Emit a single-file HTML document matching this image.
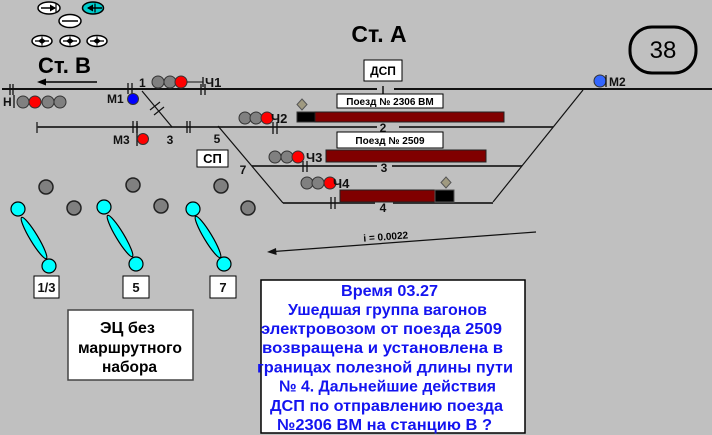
<!DOCTYPE html>
<html><head><meta charset="utf-8"><style>
html,body{margin:0;padding:0;background:#c0c0c0;}
svg{display:block;}
text{font-family:"Liberation Sans",Arial,sans-serif;font-weight:bold;}
</style></head><body>
<svg width="712" height="435" viewBox="0 0 712 435" xmlns="http://www.w3.org/2000/svg">
<rect width="712" height="435" fill="#c0c0c0"/>

<!-- top-left icons -->
<ellipse cx="49" cy="8" rx="11" ry="6" fill="#fff" stroke="#000" stroke-width="1.5"/>
<line x1="41" y1="8" x2="55" y2="8" stroke="#000" stroke-width="1.5"/>
<polygon points="56,8 50,4.5 50,11.5" fill="#000"/>
<line x1="56" y1="3.5" x2="56" y2="12.5" stroke="#000" stroke-width="1.2"/>

<ellipse cx="93" cy="8" rx="10.5" ry="6" fill="#00cccc" stroke="#000" stroke-width="1.5"/>
<line x1="88" y1="8" x2="102" y2="8" stroke="#000" stroke-width="1.5"/>
<polygon points="87,8 93,4.5 93,11.5" fill="#000"/>
<line x1="95" y1="3.5" x2="95" y2="12.5" stroke="#000" stroke-width="1.2"/>

<ellipse cx="70" cy="21" rx="11" ry="6.5" fill="#fff" stroke="#000" stroke-width="1.5"/>
<line x1="62" y1="21" x2="78" y2="21" stroke="#000" stroke-width="1.5"/>

<g>
<ellipse cx="42" cy="41" rx="10" ry="5.5" fill="#fff" stroke="#000" stroke-width="1.5"/>
<line x1="35" y1="41" x2="49" y2="41" stroke="#000" stroke-width="1.3"/>
<polygon points="38,41 42,38 46,41 42,44" fill="#000"/>
<line x1="42" y1="36.5" x2="42" y2="45.5" stroke="#000"/>
<ellipse cx="70" cy="41" rx="10" ry="5.5" fill="#fff" stroke="#000" stroke-width="1.5"/>
<line x1="63" y1="41" x2="77" y2="41" stroke="#000" stroke-width="1.3"/>
<polygon points="66,41 70,38 74,41 70,44" fill="#000"/>
<line x1="70" y1="36.5" x2="70" y2="45.5" stroke="#000"/>
<ellipse cx="97" cy="41" rx="10" ry="5.5" fill="#fff" stroke="#000" stroke-width="1.5"/>
<line x1="90" y1="41" x2="104" y2="41" stroke="#000" stroke-width="1.3"/>
<polygon points="93,41 97,38 101,41 97,44" fill="#000"/>
<line x1="97" y1="36.5" x2="97" y2="45.5" stroke="#000"/>
</g>

<!-- station titles -->
<text x="38" y="73" font-size="22">Ст. В</text>
<line x1="44" y1="82" x2="97" y2="82" stroke="#000" stroke-width="1.5"/>
<polygon points="37,82 46,78.5 46,85.5" fill="#000"/>
<text x="379" y="42" font-size="23" text-anchor="middle">Ст. А</text>

<!-- 38 -->
<rect x="630" y="27" width="66" height="46" rx="22" ry="22" fill="none" stroke="#000" stroke-width="3"/>
<text x="663" y="58" font-size="24" text-anchor="middle" style="font-weight:normal">38</text>

<!-- ДСП -->
<rect x="364" y="60" width="38" height="21" fill="#fff" stroke="#000" stroke-width="1"/>
<text x="383" y="75" font-size="12" text-anchor="middle">ДСП</text>

<!-- tracks -->
<g stroke="#111" stroke-width="2" fill="none">
<line x1="2" y1="89" x2="377" y2="89"/>
<line x1="394" y1="89" x2="712" y2="89"/>
<line x1="383" y1="86" x2="383" y2="95" stroke-width="1.5"/>
</g>
<g stroke="#333" stroke-width="2" fill="none">
<line x1="37" y1="127" x2="377" y2="127"/>
<line x1="399" y1="127" x2="553" y2="127"/>
<line x1="252" y1="166" x2="377" y2="166"/>
<line x1="392" y1="166" x2="522" y2="166"/>
<line x1="283" y1="203" x2="375" y2="203"/>
<line x1="393" y1="203" x2="493" y2="203"/>
</g>
<line x1="37" y1="122" x2="37" y2="133" stroke="#333" stroke-width="1.5"/>

<!-- diagonals -->
<g stroke="#111" stroke-width="1.2" fill="none">
<line x1="142" y1="91" x2="172" y2="127"/>
<line x1="218" y1="126" x2="283" y2="203"/>
<line x1="583" y1="90" x2="493" y2="202"/>
<line x1="150" y1="110" x2="160" y2="102"/>
<line x1="154" y1="115" x2="164" y2="107"/>
</g>

<!-- joints -->
<g stroke="#111" stroke-width="1.3">
<line x1="10" y1="84" x2="10" y2="95"/><line x1="13" y1="84" x2="13" y2="95"/>
<line x1="128" y1="83" x2="128" y2="94"/><line x1="132" y1="83" x2="132" y2="94"/>
<line x1="201" y1="84" x2="201" y2="95"/><line x1="205" y1="84" x2="205" y2="95"/>
<line x1="133" y1="121" x2="133" y2="133"/><line x1="137" y1="121" x2="137" y2="133"/>
<line x1="187" y1="121" x2="187" y2="133"/><line x1="190" y1="121" x2="190" y2="133"/>
<line x1="273" y1="122" x2="273" y2="134"/><line x1="277" y1="122" x2="277" y2="134"/>
<line x1="303" y1="161" x2="303" y2="172"/><line x1="307" y1="161" x2="307" y2="172"/>
<line x1="331" y1="197" x2="331" y2="209"/><line x1="335" y1="197" x2="335" y2="209"/>
</g>

<!-- signals -->
<g stroke="#333" stroke-width="1">
<line x1="14" y1="95" x2="14" y2="108" stroke="#111" stroke-width="1.3"/>
<circle cx="23" cy="102" r="6" fill="#808080"/>
<circle cx="35" cy="102" r="6" fill="#ff0000"/>
<circle cx="48" cy="102" r="6" fill="#808080"/>
<circle cx="60" cy="102" r="6" fill="#808080"/>
<circle cx="133" cy="99" r="5.5" fill="#0000ff"/>
<circle cx="158" cy="82" r="6" fill="#808080"/>
<circle cx="170" cy="82" r="6" fill="#808080"/>
<circle cx="181" cy="82" r="6" fill="#ff0000"/>
<line x1="187" y1="82" x2="203" y2="82" stroke="#111"/>
<line x1="203" y1="77" x2="203" y2="87" stroke="#111" stroke-width="1.3"/>
<line x1="137" y1="123" x2="137" y2="146" stroke="#111" stroke-width="1.3"/>
<circle cx="143" cy="139" r="5.5" fill="#ff0000"/>
<circle cx="245" cy="118" r="6" fill="#808080"/>
<circle cx="256" cy="118" r="6" fill="#808080"/>
<circle cx="267" cy="118" r="6" fill="#ff0000"/>
<circle cx="275" cy="157" r="6" fill="#808080"/>
<circle cx="287" cy="157" r="6" fill="#808080"/>
<circle cx="298" cy="157" r="6" fill="#ff0000"/>
<circle cx="307" cy="183" r="6" fill="#808080"/>
<circle cx="318" cy="183" r="6" fill="#808080"/>
<circle cx="330" cy="183" r="6" fill="#ff0000"/>
<circle cx="600" cy="81" r="6" fill="#3366ff"/>
<line x1="606" y1="75" x2="606" y2="87" stroke="#111" stroke-width="1.3"/>
</g>

<!-- labels -->
<g font-size="12" fill="#111">
<text x="3" y="106">Н</text>
<text x="107" y="103">М1</text>
<text x="139" y="87">1</text>
<text x="205" y="87" font-size="13">Ч1</text>
<text x="113" y="144">М3</text>
<text x="170" y="144" text-anchor="middle">3</text>
<text x="217" y="143" text-anchor="middle">5</text>
<text x="243" y="174" text-anchor="middle">7</text>
<text x="271" y="123" font-size="13">Ч2</text>
<text x="383" y="132" text-anchor="middle">2</text>
<text x="306" y="162" font-size="13">Ч3</text>
<text x="384" y="172" text-anchor="middle">3</text>
<text x="333" y="188" font-size="13">Ч4</text>
<text x="383" y="212" text-anchor="middle">4</text>
<text x="609" y="86">М2</text>
</g>

<!-- СП -->
<rect x="197" y="150" width="31" height="17" fill="#fff" stroke="#000" stroke-width="1"/>
<text x="212.5" y="163" font-size="13" text-anchor="middle">СП</text>

<!-- trains -->
<rect x="297" y="112" width="18" height="10" fill="#000" stroke="#333" stroke-width="1"/>
<rect x="315" y="112" width="189" height="10" fill="#800000" stroke="#222" stroke-width="1"/>
<polygon points="302,99 307,104.5 302,110 297,104.5" fill="#a09a80" stroke="#555" stroke-width="1"/>

<rect x="326" y="150" width="160" height="12" fill="#800000" stroke="#222" stroke-width="1"/>

<rect x="340" y="190" width="95" height="12" fill="#800000" stroke="#222" stroke-width="1"/>
<rect x="435" y="190" width="19" height="12" fill="#000" stroke="#555" stroke-width="1"/>
<polygon points="446,177 451,182.5 446,188 441,182.5" fill="#a09a80" stroke="#555" stroke-width="1"/>

<!-- train labels -->
<rect x="337" y="94" width="106" height="14" fill="#fff" stroke="#000" stroke-width="1"/>
<text x="390" y="105" font-size="10" text-anchor="middle">Поезд № 2306 ВМ</text>
<rect x="337" y="132" width="106" height="16" fill="#fff" stroke="#000" stroke-width="1"/>
<text x="390" y="144" font-size="10" text-anchor="middle">Поезд № 2509</text>

<!-- levers -->
<g stroke="#222" stroke-width="1.5">
<circle cx="46" cy="187" r="7" fill="#808080"/>
<circle cx="74" cy="208" r="7" fill="#808080"/>
<circle cx="133" cy="185" r="7" fill="#808080"/>
<circle cx="161" cy="206" r="7" fill="#808080"/>
<circle cx="221" cy="186" r="7" fill="#808080"/>
<circle cx="248" cy="208" r="7" fill="#808080"/>
</g>
<g stroke="#000" stroke-width="1.2" fill="#00ffff">
<ellipse cx="34" cy="238" rx="24" ry="4" transform="rotate(59 34 238)"/>
<circle cx="18" cy="209" r="7"/>
<circle cx="49" cy="266" r="7"/>
<ellipse cx="120" cy="236" rx="24" ry="4" transform="rotate(59 120 236)"/>
<circle cx="104" cy="207" r="7"/>
<circle cx="136" cy="264" r="7"/>
<ellipse cx="208" cy="237" rx="24" ry="4" transform="rotate(59 208 237)"/>
<circle cx="193" cy="209" r="7"/>
<circle cx="224" cy="264" r="7"/>
</g>
<g stroke="#000" stroke-width="1" fill="#fff">
<rect x="34" y="276" width="25" height="22"/>
<rect x="123" y="276" width="26" height="22"/>
<rect x="210" y="276" width="26" height="22"/>
</g>
<g font-size="13" text-anchor="middle" fill="#111">
<text x="46.5" y="292">1/3</text>
<text x="136" y="292">5</text>
<text x="223" y="292">7</text>
</g>

<!-- gradient -->
<line x1="274" y1="251.5" x2="536" y2="232" stroke="#111" stroke-width="1.2"/>
<polygon points="267,252 276,248 276.6,255" fill="#111"/>
<text x="386" y="240" font-size="10" text-anchor="middle" transform="rotate(-4.3 386 240)">i = 0.0022</text>

<!-- ЭЦ box -->
<rect x="68" y="310" width="125" height="70" fill="#fff" stroke="#444" stroke-width="1.5"/>
<g font-size="15.5" fill="#000">
<text x="100" y="333" textLength="55" lengthAdjust="spacingAndGlyphs">ЭЦ без</text>
<text x="78" y="353" textLength="104" lengthAdjust="spacingAndGlyphs">маршрутного</text>
<text x="102" y="372" textLength="55" lengthAdjust="spacingAndGlyphs">набора</text>
</g>

<!-- main text box -->
<rect x="261" y="280" width="264" height="153" fill="#fff" stroke="#000" stroke-width="1.5"/>
<g font-size="16" fill="#1414f0">
<text x="341" y="296" textLength="97" lengthAdjust="spacingAndGlyphs">Время 03.27</text>
<text x="288" y="315" textLength="199" lengthAdjust="spacingAndGlyphs">Ушедшая группа вагонов</text>
<text x="261" y="334" textLength="241" lengthAdjust="spacingAndGlyphs">электровозом от поезда 2509</text>
<text x="262" y="353" textLength="241" lengthAdjust="spacingAndGlyphs">возвращена и установлена в</text>
<text x="257" y="372.5" textLength="256" lengthAdjust="spacingAndGlyphs">границах полезной длины пути</text>
<text x="279" y="391.5" textLength="217" lengthAdjust="spacingAndGlyphs">№ 4. Дальнейшие действия</text>
<text x="270" y="411" textLength="233" lengthAdjust="spacingAndGlyphs">ДСП по отправлению поезда</text>
<text x="277" y="430" textLength="215" lengthAdjust="spacingAndGlyphs">№2306 ВМ на станцию В ?</text>
</g>
</svg>
</body></html>
